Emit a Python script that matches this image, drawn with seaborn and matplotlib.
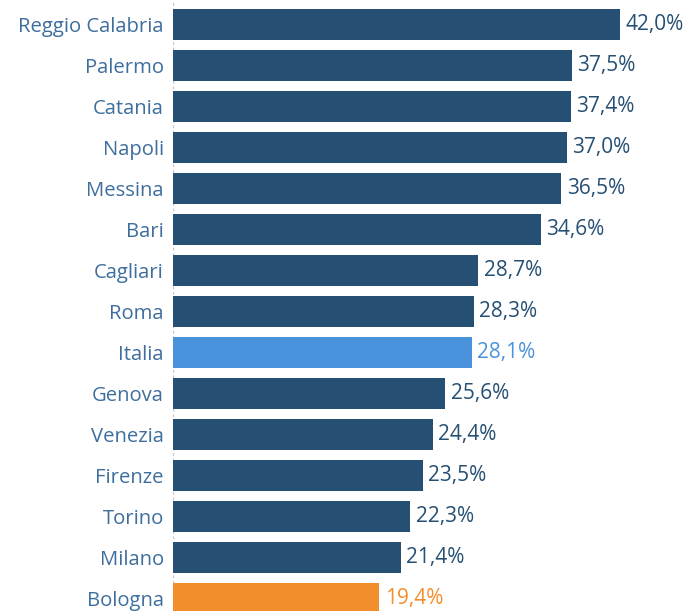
import matplotlib
matplotlib.use("Agg")
import matplotlib.pyplot as plt
import seaborn as sns
import pandas as pd

cities = ["Reggio Calabria", "Palermo", "Catania", "Napoli", "Messina", "Bari",
          "Cagliari", "Roma", "Italia", "Genova", "Venezia", "Firenze", "Torino",
          "Milano", "Bologna"]
values = [42.0, 37.5, 37.4, 37.0, 36.5, 34.6, 28.7, 28.3, 28.1, 25.6, 24.4,
          23.5, 22.3, 21.4, 19.4]

NAVY = "#254F73"
ITALY = "#4A93DC"
BOLOGNA = "#F28E2B"
LABEL = "#3E6E9E"

def bar_color(name):
    if name == "Italia":
        return ITALY
    if name == "Bologna":
        return BOLOGNA
    return NAVY

df = pd.DataFrame({"city": cities, "value": values})
palette = {c: bar_color(c) for c in cities}

sns.set_theme(style="white")
plt.rcParams["font.family"] = ["Open Sans", "DejaVu Sans"]

fig = plt.figure(figsize=(6.9, 6.11), dpi=100)
ax = fig.add_axes([173 / 690, 0, 517 / 690, 1])

sns.barplot(data=df, y="city", x="value", hue="city", palette=palette,
            order=cities, orient="h", width=0.756, dodge=False, legend=False,
            saturation=1, linewidth=0, ax=ax)

ax.set_xlim(0, 48.6)
ax.set_ylim(14.305, -0.598)

for i, (c, v) in enumerate(zip(cities, values)):
    txt_color = {"Italia": ITALY, "Bologna": BOLOGNA}.get(c, NAVY)
    ax.text(v + 0.5, i, f"{v:.1f}%".replace(".", ","), va="center", ha="left",
            fontsize=15, color=txt_color)

ax.set_xlabel("")
ax.set_ylabel("")
ax.set_xticks([])
ax.tick_params(axis="y", length=0, pad=6.5, labelsize=14.6, labelcolor=LABEL)
for s in ax.spines.values():
    s.set_visible(False)
ax.axvline(0, color="#C8C8C8", lw=1, ls=(0, (2, 2)), zorder=0)

fig.savefig("out.png", dpi=100)
